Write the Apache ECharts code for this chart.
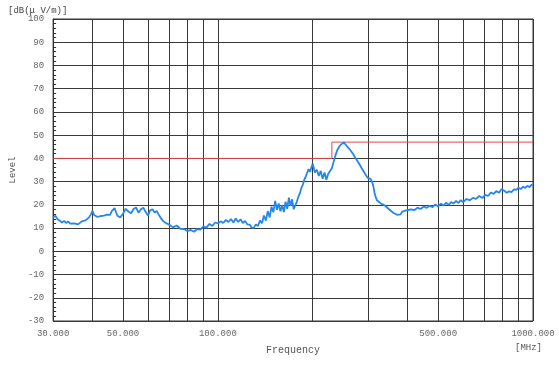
<!DOCTYPE html>
<html>
<head>
<meta charset="utf-8">
<script src="https://cdn.jsdelivr.net/npm/echarts@6/dist/echarts.min.js"></script>
<style>
html,body{margin:0;padding:0;background:#fff;}
#chart{width:559px;height:366px;}
</style>
</head>
<body>
<div id="chart"></div>
<script>
// Measured trace: frequency (MHz) and level (dB(μV/m))
var traceFreq = [
  30,30.5,31,31.5,32,32.5,33,33.5,34,34.5,
  35,35.5,36,36.5,37,37.5,38,38.5,39,39.5,
  40,40.5,41,41.5,42,42.5,43,43.5,44,44.5,
  45,45.5,46,46.5,47,47.5,48,48.5,49,49.5,
  50,51,52,53,54,55,56,57,58,59,
  60,61,62,63,64,65,66,67,68,69,
  70,72,74,76,78,80,82,84,86,88,
  90,92,94,96,98,100,102,104,106,108,
  110,112,114,116,118,120,122,124,126,128,
  130,132,134,136,138,140,142,144,146,148,
  150,152,154,156,158,160,162,164,166,168,
  170,172,174,176,178,180,182,184,186,188,
  190,192,194,196,198,200,203,206,209,212,
  215,218,221,224,227,230,233,236,239,242,
  245,248,251,254,257,260,263,266,269,272,
  275,278,281,284,287,290,293,296,299,302,
  305,308,311,314,317,320,325,330,335,340,
  345,350,355,360,365,370,375,380,385,390,
  395,400,410,420,430,440,450,460,470,480,
  490,500,510,520,530,540,550,560,570,580,
  590,600,615,630,645,660,675,690,705,720,
  735,750,765,780,795,810,825,840,855,870,
  885,900,915,930,945,960,975,990,1000
];
var traceLevel = [
  14.5,15.3,13.8,13.2,12.4,13.1,12.2,12.8,11.9,12.6,
  12.0,12.7,11.6,12.3,12.9,12.4,13.3,13.9,14.6,15.8,
  17.4,15.6,16.2,14.8,14.3,15.2,14.6,15.4,14.9,15.8,
  16.3,15.7,17.2,17.9,18.6,16.8,15.3,15.9,14.6,15.4,
  16.2,18.3,17.1,16.4,18.2,18.9,16.6,18.1,18.8,16.9,
  15.4,17.6,18.1,16.7,17.3,15.6,14.2,13.1,12.4,11.8,
  11.5,10.3,11.1,9.7,9.6,8.7,9.2,8.4,9.6,9.3,
  10.7,10.2,11.8,10.9,12.4,12.0,12.9,12.2,13.5,12.6,
  13.9,12.4,14.1,12.6,13.8,12.2,13.1,11.6,11.5,10.2,
  10.1,11.6,10.9,13.2,12.1,15.4,13.2,17.3,14.6,19.2,
  16.8,21.7,17.9,20.6,17.2,19.8,16.9,21.4,18.3,23.1,
  19.6,22.4,18.1,17.6,21.3,23.4,24.9,27.2,28.6,30.8,
  32.1,33.8,35.4,34.2,36.1,37.8,33.9,35.1,32.4,34.6,
  31.2,33.9,30.8,33.4,32.6,35.8,38.6,41.2,43.4,44.8,
  45.8,46.6,46.9,46.1,45.2,44.4,43.6,42.9,41.8,40.6,
  39.6,38.8,37.6,36.5,35.4,34.6,33.4,32.9,31.6,31.9,
  31.2,30.1,28.4,25.3,23.2,21.9,21.2,20.4,20.1,19.5,
  19.4,18.0,17.9,16.6,16.8,15.7,16.3,15.9,17.1,16.4,
  17.6,17.0,18.0,17.7,18.8,18.2,19.3,18.7,19.6,19.0,
  20.2,19.3,20.5,19.7,20.9,20.0,21.2,20.6,21.7,20.8,
  22.0,21.2,22.5,22.0,23.0,22.6,23.8,22.9,24.3,23.8,
  25.3,24.7,25.9,25.2,26.8,26.1,25.2,25.8,25.5,26.7,
  26.5,27.4,26.8,27.8,27.3,28.2,27.6,28.7,28.4
];
// Limit line
var limitFreq = [30, 230, 230, 1000];
var limitLevel = [40, 40, 47, 47];
// Axis ticks
var gridFreqs = [30,40,50,60,70,80,90,100,200,300,400,500,600,700,800,900,1000];
var labelFreqs = [30,50,100,500,1000];
var yMin = -30, yMax = 100, yStep = 10;

function zip(a, b){ var r=[]; for (var i=0;i<a.length;i++) r.push([a[i], b[i]]); return r; }

var mono = '"Liberation Mono", "DejaVu Sans Mono", monospace';
var chart = echarts.init(document.getElementById('chart'), null, {renderer:'canvas'});
chart.setOption({
  animation: false,
  backgroundColor: '#fff',
  title: {
    text: '[dB(μ V/m)]', left: 3, top: 1,
    textStyle: {fontFamily: mono, fontSize: 9, fontWeight: 'normal', color: '#444'}
  },
  grid: {left: 53, right: 26, top: 19, bottom: 45, show: true, borderColor: '#333', borderWidth: 1, backgroundColor: '#fff'},
  xAxis: {
    type: 'log', logBase: 10, min: 30, max: 1000,
    name: 'Frequency', nameLocation: 'middle', nameGap: 24,
    nameTextStyle: {fontFamily: mono, fontSize: 10, color: '#555'},
    axisLine: {show: true, lineStyle: {color: '#333', width: 1}},
    axisTick: {show: false, customValues: gridFreqs},
    splitLine: {show: true, lineStyle: {color: '#3a3a3a', width: 1}},
    axisLabel: {customValues: labelFreqs, margin: 8, fontFamily: mono, fontSize: 9, color: '#666',
      formatter: function(v){ return (+v).toFixed(3); }}
  },
  yAxis: {
    type: 'value', min: yMin, max: yMax, interval: yStep,
    name: 'Level', nameLocation: 'middle', nameGap: 35, nameRotate: 90,
    nameTextStyle: {fontFamily: mono, fontSize: 9, color: '#555'},
    axisLine: {show: true, lineStyle: {color: '#333', width: 1}},
    axisTick: {show: true, inside: true, length: 4, lineStyle: {color: '#333'}},
    minorTick: {show: true, splitNumber: 5, length: 3, lineStyle: {color: '#333'}},
    splitLine: {show: true, lineStyle: {color: '#3a3a3a', width: 1}},
    axisLabel: {margin: 9, fontFamily: mono, fontSize: 9, color: '#666'}
  },
  graphic: [{
    type: 'text', right: 17, top: 343,
    style: {text: '[MHz]', fontFamily: mono, fontSize: 9, fill: '#555'}
  }],
  series: [
    {
      type: 'line', name: 'Limit', data: zip(limitFreq, limitLevel),
      symbol: 'none', lineStyle: {color: '#e04848', width: 1}, z: 3
    },
    {
      type: 'line', name: 'Level', data: zip(traceFreq, traceLevel),
      symbol: 'none', lineStyle: {color: '#2486f0', width: 1.8}, z: 4
    }
  ]
});
</script>
</body>
</html>
